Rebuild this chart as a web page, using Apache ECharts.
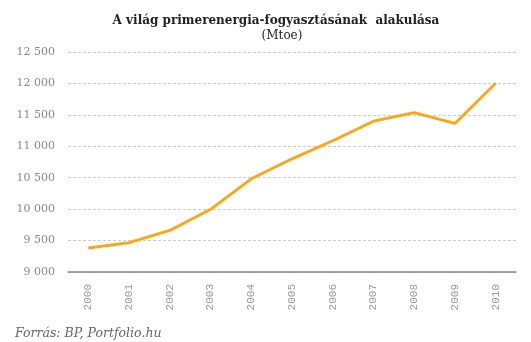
<!DOCTYPE html>
<html><head><meta charset="utf-8">
<script src="https://cdn.jsdelivr.net/npm/echarts@6/dist/echarts.min.js"></script>
<style>html,body{margin:0;padding:0;background:#fff}#c{width:531px;height:342px}</style>
</head><body><div id="c"></div>
<script>
const years = ['2000','2001','2002','2003','2004','2005','2006','2007','2008','2009','2010'];
const consumption = [9382, 9466, 9661, 9998, 10482, 10800, 11087, 11399, 11535, 11363, 12002];
const yMin = 9000, yMax = 12500, yStep = 500;

const chart = echarts.init(document.getElementById('c'), null, {renderer:'canvas'});
chart.setOption({
  animation: false,
  backgroundColor: '#fff',
  title: [{
    text: 'A világ primerenergia-fogyasztásának  alakulása',
    left: 271, top: 10, textAlign: 'center',
    textStyle: {fontFamily: 'DejaVu Serif', fontWeight: 'bold', fontSize: 12, color: '#222'}
  },{
    text: '(Mtoe)',
    left: 277, top: 25, textAlign: 'center',
    textStyle: {fontFamily: 'DejaVu Serif', fontWeight: 'normal', fontSize: 12, color: '#222'}
  },{
    text: 'Forrás: BP, Portfolio.hu',
    left: 10, top: 322,
    textStyle: {fontFamily: 'DejaVu Serif', fontStyle: 'italic', fontWeight: 'normal', fontSize: 12.5, color: '#666'}
  }],
  grid: {left: 68, right: 15, top: 52, bottom: 70},
  xAxis: {
    type: 'category', data: years, boundaryGap: true,
    axisLine: {show: true, lineStyle: {color: '#888', width: 1.5}},
    axisTick: {show: false},
    axisLabel: {rotate: 90, margin: 12, color: '#999', fontFamily: 'Liberation Mono', fontSize: 11}
  },
  yAxis: {
    type: 'value', min: yMin, max: yMax, interval: yStep,
    axisLine: {show: false}, axisTick: {show: false},
    splitLine: {show: true, lineStyle: {color: '#ccc', type: [3,2], width: 1}},
    axisLabel: {
      margin: 13, color: '#888', fontFamily: 'DejaVu Serif', fontSize: 11,
      formatter: v => { const s = String(v); return s.length > 3 ? s.slice(0, s.length-3) + ' ' + s.slice(-3) : s; }
    }
  },
  series: [{
    type: 'line', data: consumption, symbol: 'none',
    lineStyle: {color: '#FFA514', width: 2.8}
  }]
});
</script></body></html>
